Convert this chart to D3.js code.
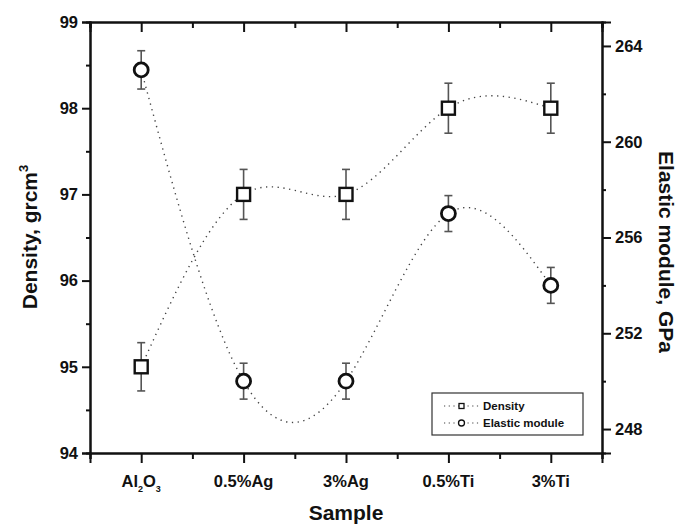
<!DOCTYPE html>
<html>
<head>
<meta charset="utf-8">
<script src="https://cdn.jsdelivr.net/npm/d3@7"></script>
<style>
  body { margin: 0; background: #fff; }
  text { font-family: "Liberation Sans", Arial, sans-serif; font-weight: bold; fill: #111; }
</style>
</head>
<body>
<script>
// chart values
var samples = ["Al2O3", "0.5%Ag", "3%Ag", "0.5%Ti", "3%Ti"];
var density = [95, 97, 97, 98, 98];
var densityErr = [0.28, 0.29, 0.29, 0.29, 0.29];
var elastic = [263, 250, 250, 257, 254];
var elasticErr = [0.8, 0.75, 0.75, 0.75, 0.75];
var densityTicks = [94, 95, 96, 97, 98, 99];
var elasticTicks = [248, 252, 256, 260, 264];

window.onload = drawChart();

function drawChart() {
    var width = 679,
        height = 524;
    var left = 90, right = 602, top = 22, bottom = 453;

    var svg = d3.select("body")
        .append("svg")
        .attr("width", width)
        .attr("height", height);

    var x = d3.scaleLinear().domain([-0.5, 4.5]).range([left, right]);
    var yL = d3.scaleLinear().domain([94, 99]).range([bottom, top]);
    var yR = d3.scaleLinear().domain([247, 265]).range([bottom, top]);

    var idx = d3.range(samples.length);
    var halfTicks = idx.map(function (i) { return i + 0.5; }).concat([-0.5]);

    //minor ticks first, then major ones with labels
    svg.append("g").attr("transform", "translate(" + left + ",0)")
        .call(d3.axisLeft(yL).tickValues(d3.range(94.5, 99, 1)).tickSize(4).tickFormat(""));
    svg.append("g").attr("class", "yl").attr("transform", "translate(" + left + ",0)")
        .call(d3.axisLeft(yL).tickValues(densityTicks).tickSize(8).tickPadding(4).tickFormat(d3.format("d")));

    svg.append("g").attr("transform", "translate(" + right + ",0)")
        .call(d3.axisRight(yR).tickValues(d3.range(250, 265, 4)).tickSize(4).tickFormat(""));
    svg.append("g").attr("class", "yr").attr("transform", "translate(" + right + ",0)")
        .call(d3.axisRight(yR).tickValues(elasticTicks).tickSize(9).tickPadding(4).tickFormat(d3.format("d")));

    svg.append("g").attr("transform", "translate(0," + bottom + ")")
        .call(d3.axisBottom(x).tickValues(halfTicks).tickSize(6).tickFormat(""));
    svg.append("g").attr("transform", "translate(0," + bottom + ")")
        .call(d3.axisBottom(x).tickValues(idx).tickSize(10).tickFormat(""));

    svg.append("g").attr("transform", "translate(0," + top + ")")
        .call(d3.axisTop(x).tickValues(halfTicks).tickSize(-6).tickFormat(""));
    svg.append("g").attr("transform", "translate(0," + top + ")")
        .call(d3.axisTop(x).tickValues(idx).tickSize(-10).tickFormat(""));

    svg.selectAll(".domain").attr("stroke", "#111").attr("stroke-width", 2);
    svg.selectAll(".tick line").attr("stroke", "#111").attr("stroke-width", 2);
    svg.selectAll(".yl text, .yr text").style("font-size", "16.5px").attr("fill", "#111");

    //category labels, with subscripts for Al2O3
    var xl = svg.append("g");
    idx.forEach(function (i) {
        var t = xl.append("text")
            .attr("x", x(i))
            .attr("y", 487)
            .attr("text-anchor", "middle")
            .style("font-size", "16.5px");
        if (samples[i] === "Al2O3") {
            t.append("tspan").text("Al");
            t.append("tspan").attr("dy", 5).style("font-size", "9px").text("2");
            t.append("tspan").attr("dy", -5).text("O");
            t.append("tspan").attr("dy", 5).style("font-size", "9px").text("3");
        } else {
            t.text(samples[i]);
        }
    });

    //axis titles
    svg.append("text")
        .attr("x", (left + right) / 2)
        .attr("y", 520)
        .attr("text-anchor", "middle")
        .style("font-size", "21px")
        .text("Sample");

    var lt = svg.append("text")
        .attr("transform", "translate(37,237) rotate(-90)")
        .attr("text-anchor", "middle")
        .style("font-size", "21px");
    lt.append("tspan").text("Density, grcm");
    lt.append("tspan").attr("dy", -9).style("font-size", "13px").text("3");

    svg.append("text")
        .attr("transform", "translate(659,252) rotate(90)")
        .attr("text-anchor", "middle")
        .style("font-size", "21px")
        .text("Elastic module, GPa");

    //dotted spline curves
    var lineL = d3.line().x(function (d, i) { return x(i); }).y(function (d) { return yL(d); }).curve(d3.curveNatural);
    var lineR = d3.line().x(function (d, i) { return x(i); }).y(function (d) { return yR(d); }).curve(d3.curveNatural);

    svg.append("path").attr("d", lineL(density))
        .attr("fill", "none").attr("stroke", "#444").attr("stroke-width", 1.4)
        .attr("stroke-dasharray", "1.3,4.5");
    svg.append("path").attr("d", lineR(elastic))
        .attr("fill", "none").attr("stroke", "#444").attr("stroke-width", 1.4)
        .attr("stroke-dasharray", "1.3,4.5");

    //error bars
    function errorBars(vals, errs, y) {
        var g = svg.append("g").attr("stroke", "#555").attr("stroke-width", 1.6);
        idx.forEach(function (i) {
            var y0 = y(vals[i] - errs[i]), y1 = y(vals[i] + errs[i]);
            g.append("line").attr("x1", x(i)).attr("x2", x(i)).attr("y1", y0).attr("y2", y1);
            g.append("line").attr("x1", x(i) - 4).attr("x2", x(i) + 4).attr("y1", y0).attr("y2", y0);
            g.append("line").attr("x1", x(i) - 4).attr("x2", x(i) + 4).attr("y1", y1).attr("y2", y1);
        });
    }
    errorBars(density, densityErr, yL);
    errorBars(elastic, elasticErr, yR);

    //markers
    svg.selectAll(".sq").data(density).enter().append("rect")
        .attr("x", function (d, i) { return x(i) - 6.5; })
        .attr("y", function (d) { return yL(d) - 6.5; })
        .attr("width", 13).attr("height", 13)
        .attr("fill", "#fff").attr("stroke", "#111").attr("stroke-width", 2.4);
    svg.selectAll(".ci").data(elastic).enter().append("circle")
        .attr("cx", function (d, i) { return x(i); })
        .attr("cy", function (d) { return yR(d); })
        .attr("r", 7)
        .attr("fill", "#fff").attr("stroke", "#111").attr("stroke-width", 2.8);

    //legend
    var lg = svg.append("g").attr("transform", "translate(432,393)");
    lg.append("rect").attr("width", 151).attr("height", 42)
        .attr("fill", "#fff").attr("stroke", "#333").attr("stroke-width", 1.2);
    [{ name: "Density", y: 13 }, { name: "Elastic module", y: 30 }].forEach(function (e, k) {
        lg.append("line").attr("x1", 12).attr("x2", 48).attr("y1", e.y).attr("y2", e.y)
            .attr("stroke", "#444").attr("stroke-width", 1.2).attr("stroke-dasharray", "1.2,3.5");
        if (k === 0) {
            lg.append("rect").attr("x", 27).attr("y", e.y - 2.5).attr("width", 5).attr("height", 5)
                .attr("fill", "#fff").attr("stroke", "#111").attr("stroke-width", 1.3);
        } else {
            lg.append("circle").attr("cx", 29.5).attr("cy", e.y).attr("r", 3)
                .attr("fill", "#fff").attr("stroke", "#111").attr("stroke-width", 1.3);
        }
        lg.append("text").attr("x", 51).attr("y", e.y + 4)
            .style("font-size", "11.5px").text(e.name);
    });
}
</script>
</body>
</html>
